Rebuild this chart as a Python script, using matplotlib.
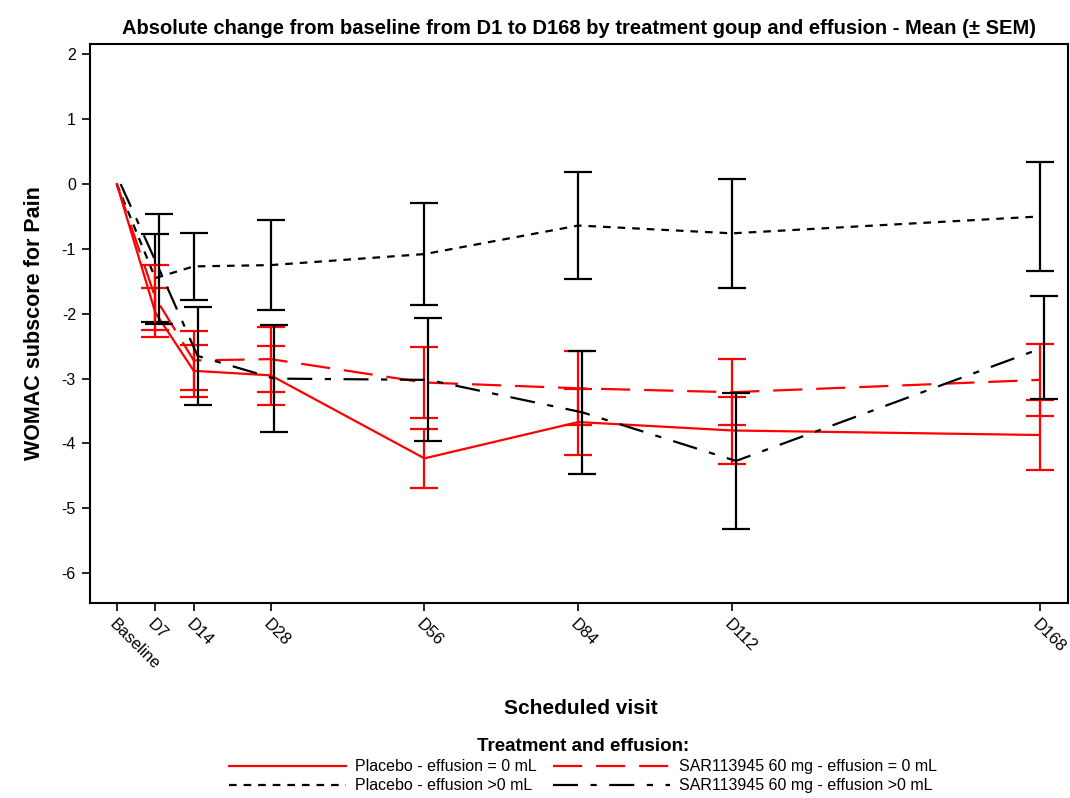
import matplotlib
matplotlib.use('Agg')
import matplotlib.pyplot as plt
import numpy as np
from matplotlib.lines import Line2D

plt.rcParams['font.family'] = ['Liberation Sans', 'DejaVu Sans']
plt.rcParams['lines.scale_dashes'] = False

# Visit schedule
visit_days = [0, 7, 14, 28, 56, 84, 112, 168]
visit_labels = ['Baseline', 'D7', 'D14', 'D28', 'D56', 'D84', 'D112', 'D168']

# Mean change from baseline and SEM per group (baseline has no SEM)
placebo_eff0_mean = [0, -1.98, -2.88, -2.95, -4.23, -3.67, -3.80, -3.87]
placebo_eff0_sem = [0, 0.38, 0.40, 0.45, 0.46, 0.51, 0.52, 0.54]

sar_eff0_mean = [0, -1.75, -2.72, -2.70, -3.06, -3.15, -3.21, -3.02]
sar_eff0_sem = [0, 0.50, 0.45, 0.50, 0.55, 0.57, 0.51, 0.56]

placebo_effpos_mean = [0, -1.45, -1.27, -1.25, -1.08, -0.64, -0.76, -0.50]
placebo_effpos_sem = [0, 0.68, 0.52, 0.69, 0.79, 0.83, 0.84, 0.84]

sar_effpos_mean = [0, -1.31, -2.65, -3.00, -3.02, -3.52, -4.27, -2.52]
sar_effpos_sem = [0, 0.85, 0.76, 0.83, 0.95, 0.95, 1.05, 0.79]

groups = [
    ('Placebo - effusion = 0 mL', placebo_eff0_mean, placebo_eff0_sem,
     '#ff0000', '-', 0.0),
    ('Placebo - effusion >0 mL', placebo_effpos_mean, placebo_effpos_sem,
     'black', (0, (5.5, 5.0)), 0.0),
    ('SAR113945 60 mg - effusion = 0 mL', sar_eff0_mean, sar_eff0_sem,
     '#ff0000', (0, (21, 10)), 0.0),
    ('SAR113945 60 mg - effusion >0 mL', sar_effpos_mean, sar_effpos_sem,
     'black', (0, (18, 9, 4.5, 9)), 0.7),
]

fig = plt.figure(figsize=(10.7, 7.98), dpi=100)
ax = fig.add_axes([0.084, 0.2444, 0.914, 0.7005])

days = np.array(visit_days, dtype=float)
handles = []
for name, mean, sem, color, ls, shift in groups:
    x = days + shift
    ax.plot(x, mean, color=color, linestyle=ls, linewidth=1.6)
    ax.errorbar(x[1:], mean[1:], yerr=sem[1:], fmt='none', ecolor=color,
                elinewidth=1.6, capsize=10, capthick=1.6)
    handles.append(Line2D([], [], color=color, linestyle=ls, linewidth=1.6, label=name))

ax.set_xlim(-4.9, 173.1)
ax.set_ylim(-6.46, 2.16)
ax.set_yticks(range(-6, 3))
ax.set_yticklabels([str(v) for v in range(-6, 3)], fontsize=11.5)
ax.set_xticks(visit_days)
ax.set_xticklabels(visit_labels, fontsize=12, rotation=-45, ha='left',
                   va='top', rotation_mode='anchor')
ax.tick_params(direction='out', length=6, width=1.2, pad=4)
for sp in ax.spines.values():
    sp.set_linewidth(1.5)

ax.set_title('Absolute change from baseline from D1 to D168 by treatment goup and effusion - Mean (\u00b1 SEM)',
             fontsize=14.5, fontweight='bold', pad=7)
ax.set_ylabel('WOMAC subscore for Pain', fontsize=15.5, fontweight='bold', labelpad=12)
fig.text(0.543, 0.105, 'Scheduled visit', fontsize=15, fontweight='bold', ha='center')

leg = fig.legend(handles=handles, loc='upper center', bbox_to_anchor=(0.545, 0.085),
                 ncol=2, frameon=False, fontsize=11.5, handlelength=7.3,
                 columnspacing=1.0, handletextpad=0.6, labelspacing=0.25,
                 borderpad=0, title='Treatment and effusion:',
                 title_fontproperties={'weight': 'bold', 'size': 13.5})

fig.savefig('out.png', dpi=100)
